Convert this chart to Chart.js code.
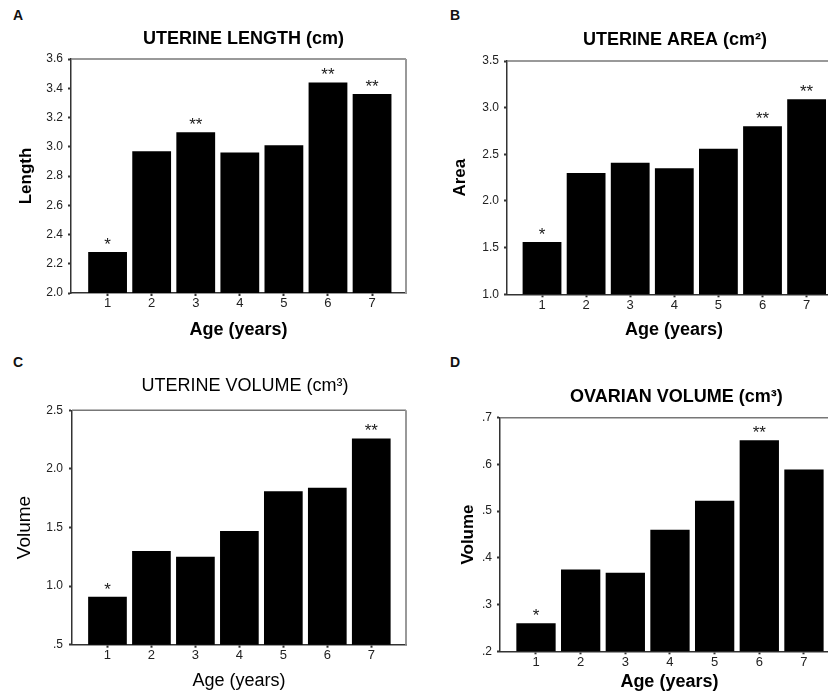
<!DOCTYPE html>
<html>
<head>
<meta charset="utf-8">
<script src="https://cdn.jsdelivr.net/npm/chart.js"></script>
<style>
  html, body { margin: 0; padding: 0; width: 828px; height: 694px; overflow: hidden; background: #fff; }
  canvas { position: absolute; }
  .letter { position: absolute; font: bold 14px Arial, "Liberation Sans", sans-serif; line-height: 14px; color: #111; }
</style>
</head>
<body>
<div class="letter" style="left:13px;top:8px">A</div>
<div class="letter" style="left:450px;top:8px">B</div>
<div class="letter" style="left:13px;top:355px">C</div>
<div class="letter" style="left:450px;top:355px">D</div>

<canvas id="chartA" width="414" height="347" style="left:0;top:0"></canvas>
<canvas id="chartB" width="430" height="347" style="left:414px;top:0"></canvas>
<canvas id="chartC" width="414" height="347" style="left:0;top:347px"></canvas>
<canvas id="chartD" width="430" height="347" style="left:414px;top:347px"></canvas>

<script>
const ages = [1, 2, 3, 4, 5, 6, 7];

const uterineLength = [2.28, 2.97, 3.10, 2.96, 3.01, 3.44, 3.36];
const uterineArea = [1.56, 2.30, 2.41, 2.35, 2.56, 2.80, 3.09];
const uterineVolume = [0.91, 1.30, 1.25, 1.47, 1.81, 1.84, 2.26];
const ovarianVolume = [0.26, 0.375, 0.368, 0.46, 0.522, 0.652, 0.589];

const lengthStars = ['*', '', '**', '', '', '**', '**'];
const areaStars = ['*', '', '', '', '', '**', '**'];
const uterineVolumeStars = ['*', '', '', '', '', '', '**'];
const ovarianVolumeStars = ['*', '', '', '', '', '**', ''];

const lengthTicks = [2.0, 2.2, 2.4, 2.6, 2.8, 3.0, 3.2, 3.4, 3.6];
const lengthLabels = ['2.0', '2.2', '2.4', '2.6', '2.8', '3.0', '3.2', '3.4', '3.6'];
const areaTicks = [1.0, 1.5, 2.0, 2.5, 3.0, 3.5];
const areaLabels = ['1.0', '1.5', '2.0', '2.5', '3.0', '3.5'];
const uterineVolumeTicks = [0.5, 1.0, 1.5, 2.0, 2.5];
const uterineVolumeLabels = ['.5', '1.0', '1.5', '2.0', '2.5'];
const ovarianVolumeTicks = [0.2, 0.3, 0.4, 0.5, 0.6, 0.7];
const ovarianVolumeLabels = ['.2', '.3', '.4', '.5', '.6', '.7'];

const family = 'Arial, "Liberation Sans", sans-serif';

// top and right edges of the plot box, plus a small nudge of the title
const framePlugin = {
  id: 'frame',
  afterLayout(chart, args, opts) {
    chart.titleBlock.left += opts.titleShift;
    chart.titleBlock.right += opts.titleShift;
  },
  afterDraw(chart) {
    const {ctx, chartArea: {left, top, right, bottom}} = chart;
    ctx.save();
    ctx.strokeStyle = '#777';
    ctx.lineWidth = 1.5;
    ctx.beginPath();
    ctx.moveTo(left, top);
    ctx.lineTo(right, top);
    ctx.stroke();
    ctx.strokeStyle = '#999';
    ctx.lineWidth = 2;
    ctx.beginPath();
    ctx.moveTo(right, top);
    ctx.lineTo(right, bottom);
    ctx.stroke();
    ctx.restore();
  }
};

// significance asterisks over the bars
const starPlugin = {
  id: 'stars',
  afterDatasetsDraw(chart, args, opts) {
    const ctx = chart.ctx;
    const meta = chart.getDatasetMeta(0);
    ctx.save();
    ctx.fillStyle = '#1a1a1a';
    ctx.font = '17px ' + family;
    ctx.textAlign = 'center';
    ctx.textBaseline = 'alphabetic';
    meta.data.forEach((bar, i) => {
      if (opts.marks[i]) ctx.fillText(opts.marks[i], bar.x, bar.y - 2);
    });
    ctx.restore();
  }
};

function makeChart(id, p) {
  const weight = p.bold ? 'bold' : 'normal';
  return new Chart(id, {
    type: 'bar',
    data: {
      datasets: [{
        data: ages.map((a, i) => ({x: a, y: p.values[i]})),
        backgroundColor: '#000',
        borderWidth: 0,
        categoryPercentage: 1,
        barPercentage: 0.88
      }]
    },
    options: {
      responsive: false,
      animation: false,
      layout: {padding: {left: 0, right: p.padRight, top: 0, bottom: 0}},
      plugins: {
        legend: {display: false},
        tooltip: {enabled: false},
        title: {
          display: true,
          text: p.title,
          fullSize: false,
          color: '#000',
          font: {family, size: 18, weight},
          padding: {top: p.titleTop, bottom: p.titleBottom}
        },
        frame: {titleShift: p.titleShift},
        stars: {marks: p.stars}
      },
      scales: {
        x: {
          type: 'linear',
          offset: false,
          min: p.xMin,
          max: p.xMax,
          afterFit: s => { s.height = p.xHeight; },
          afterBuildTicks: s => { s.ticks = ages.map(v => ({value: v})); },
          grid: {display: true, offset: false, drawOnChartArea: false, drawTicks: true, tickLength: 3, tickWidth: 2, tickColor: '#333'},
          border: {display: true, color: '#333', width: 1.5},
          ticks: {padding: 0, color: '#222', font: {family, size: 13}},
          title: {display: true, text: 'Age (years)', color: '#000', font: {family, size: 18, weight}, padding: {top: 0, bottom: p.xTitlePad}}
        },
        y: {
          min: p.yTicks[0],
          max: p.yTicks[p.yTicks.length - 1],
          afterFit: s => { s.width = p.yWidth; },
          afterBuildTicks: s => { s.ticks = p.yTicks.map(v => ({value: v})); },
          grid: {display: true, drawOnChartArea: false, drawTicks: true, tickLength: 3, tickWidth: 2, tickColor: '#333'},
          border: {display: true, color: '#333', width: 1.5},
          ticks: {padding: p.yTickPad, color: '#222', font: {family, size: 12}, callback: (v, i) => p.yLabels[i]},
          title: {display: true, text: p.yTitle, color: '#000', font: {family, size: p.yTitleSize, weight}, padding: {top: p.yTitlePad, bottom: 0}}
        }
      }
    },
    plugins: [framePlugin, starPlugin]
  });
}

makeChart('chartA', {
  values: uterineLength, stars: lengthStars, title: 'UTERINE LENGTH (cm)', bold: true, titleShift: 5,
  yTicks: lengthTicks, yLabels: lengthLabels, yTitle: 'Length', yTitleSize: 17,
  padRight: 8, titleTop: 28.2, titleBottom: 9.2, xMin: 0.17, xMax: 7.77, xHeight: 54, xTitlePad: 6.2,
  yWidth: 71, yTitlePad: 15.8, yTickPad: 5
});

makeChart('chartB', {
  values: uterineArea, stars: areaStars, title: 'UTERINE AREA (cm²)', bold: true, titleShift: 1,
  yTicks: areaTicks, yLabels: areaLabels, yTitle: 'Area', yTitleSize: 17,
  padRight: 3, titleTop: 29.2, titleBottom: 10.2, xMin: 0.206, xMax: 7.78, xHeight: 52.7, xTitlePad: 6.2,
  yWidth: 93, yTitlePad: 36.3, yTickPad: 5
});

makeChart('chartC', {
  values: uterineVolume, stars: uterineVolumeStars, title: 'UTERINE VOLUME (cm³)', bold: false, titleShift: 6,
  yTicks: uterineVolumeTicks, yLabels: uterineVolumeLabels, yTitle: 'Volume', yTitleSize: 19,
  padRight: 8, titleTop: 28.2, titleBottom: 13.5, xMin: 0.193, xMax: 7.79, xHeight: 49.3, xTitlePad: 2.2,
  yWidth: 72, yTitlePad: 13.6, yTickPad: 6
});

makeChart('chartD', {
  values: ovarianVolume, stars: ovarianVolumeStars, title: 'OVARIAN VOLUME (cm³)', bold: true, titleShift: 7,
  yTicks: ovarianVolumeTicks, yLabels: ovarianVolumeLabels, yTitle: 'Volume', yTitleSize: 17,
  padRight: 5.2, titleTop: 39.2, titleBottom: 9.9, xMin: 0.194, xMax: 7.78, xHeight: 42.7, xTitlePad: 1.2,
  yWidth: 86, yTitlePad: 44.3, yTickPad: 5
});
</script>
</body>
</html>
